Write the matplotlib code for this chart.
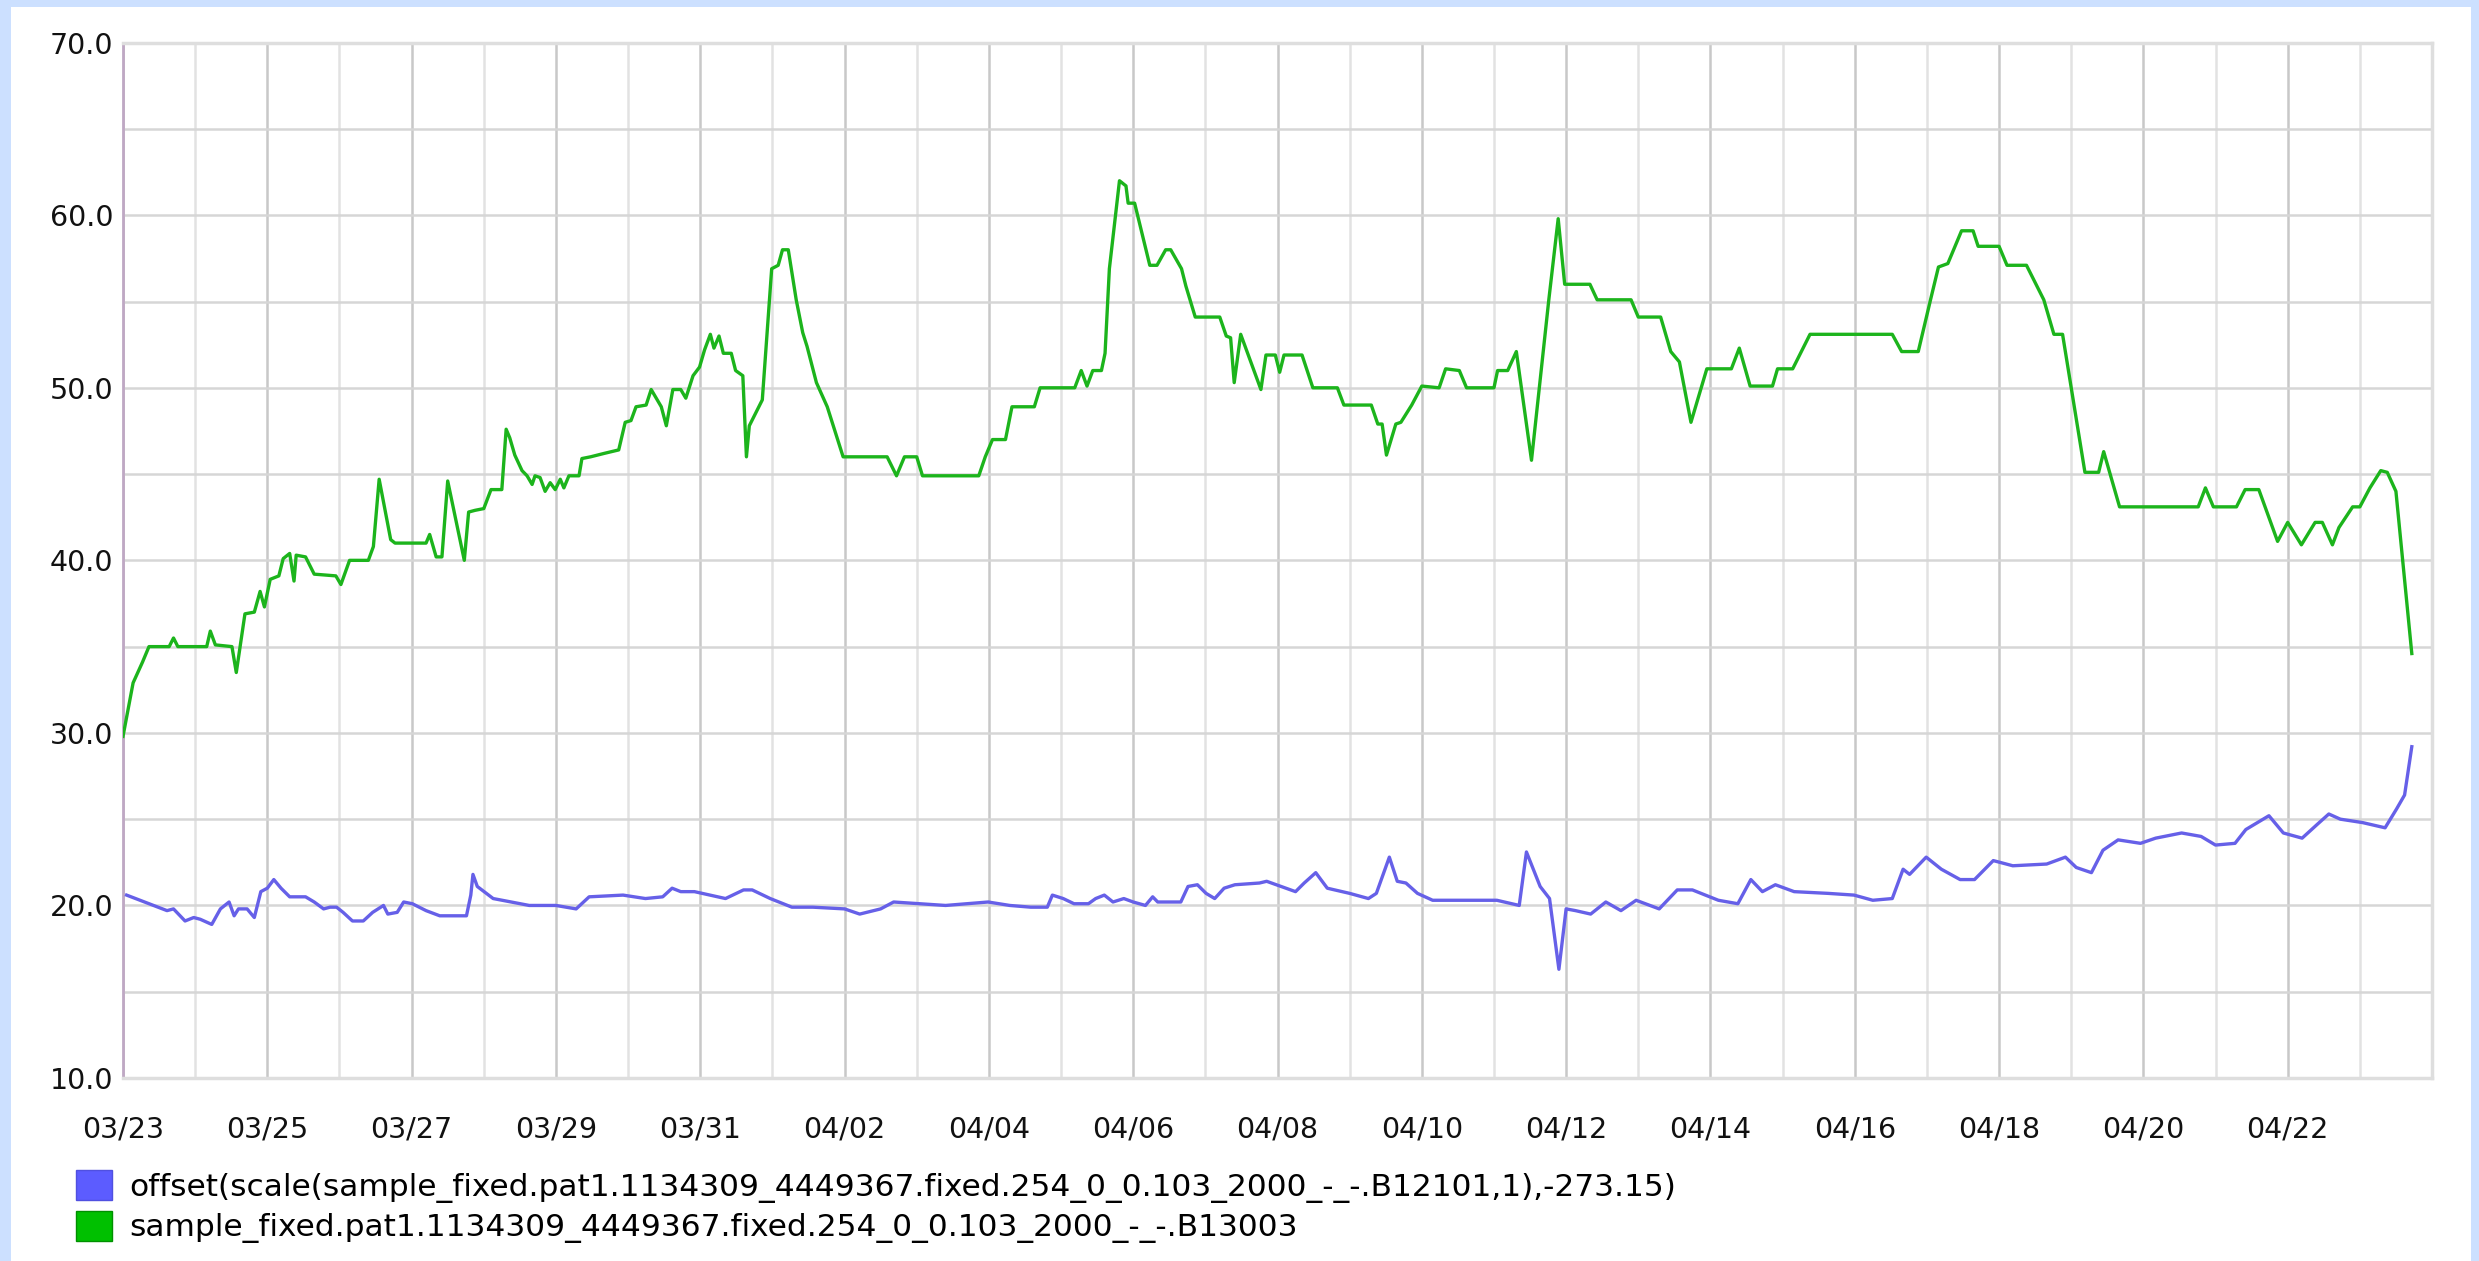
import numpy as np
import matplotlib
matplotlib.use("Agg")
import matplotlib.pyplot as plt
from matplotlib.patches import Patch, Rectangle

# days since 03/23 00:00
green_days = [0.0, 0.14, 0.27, 0.36, 0.64, 0.70, 0.76, 1.16, 1.21, 1.28, 1.51, 1.57, 1.69, 1.82,
              1.90, 1.96, 2.04, 2.16, 2.22, 2.31, 2.37, 2.40, 2.53, 2.65, 2.95, 3.02, 3.14, 3.40,
              3.47, 3.55, 3.71, 3.77, 4.20, 4.25, 4.34, 4.42, 4.50, 4.62, 4.73, 4.79, 4.88, 5.00,
              5.10, 5.25, 5.31, 5.36, 5.43, 5.53, 5.60, 5.67, 5.71, 5.78, 5.85, 5.92, 5.99, 6.06,
              6.11, 6.18, 6.32, 6.36, 6.48, 6.67, 6.87, 6.96, 7.04, 7.11, 7.25, 7.32, 7.39, 7.46,
              7.53, 7.62, 7.73, 7.80, 7.90, 7.99, 8.06, 8.14, 8.19, 8.26, 8.32, 8.43, 8.49, 8.59,
              8.64, 8.68, 8.86, 8.99, 9.08, 9.14, 9.22, 9.33, 9.42, 9.48, 9.61, 9.76, 9.98, 10.59,
              10.72, 10.83, 11.00, 11.08, 11.86, 11.95, 12.05, 12.23, 12.32, 12.63, 12.71, 13.19,
              13.28, 13.36, 13.44, 13.56, 13.61, 13.67, 13.81, 13.90, 13.93, 14.02, 14.23, 14.33,
              14.45, 14.52, 14.67, 14.73, 14.86, 14.95, 15.20, 15.29, 15.35, 15.40, 15.49, 15.77,
              15.84, 15.97, 16.03, 16.09, 16.34, 16.49, 16.83, 16.92, 17.30, 17.39, 17.45, 17.51,
              17.64, 17.71, 17.86, 18.00, 18.24, 18.33, 18.52, 18.62, 19.00, 19.05, 19.19, 19.31,
              19.52, 19.76, 19.89, 19.98, 20.33, 20.43, 20.90, 21.00, 21.31, 21.45, 21.57, 21.73,
              21.95, 22.29, 22.40, 22.55, 22.86, 22.93, 23.14, 23.26, 23.38, 24.52, 24.65, 24.88,
              25.05, 25.16, 25.29, 25.48, 25.64, 25.71, 26.00, 26.11, 26.38, 26.62, 26.76, 26.88,
              27.19, 27.38, 27.45, 27.67, 28.76, 28.86, 28.97, 29.29, 29.41, 29.60, 29.86, 30.00,
              30.19, 30.38, 30.48, 30.62, 30.71, 30.90, 31.00, 31.14, 31.29, 31.38, 31.50, 31.72]
green_vals = [29.8, 32.9, 34.1, 35.0, 35.0, 35.5, 35.0, 35.0, 35.9, 35.1, 35.0, 33.5, 36.9, 37.0,
              38.2, 37.3, 38.9, 39.1, 40.1, 40.4, 38.8, 40.3, 40.2, 39.2, 39.1, 38.6, 40.0, 40.0,
              40.8, 44.7, 41.2, 41.0, 41.0, 41.5, 40.2, 40.2, 44.6, 42.2, 40.0, 42.8, 42.9, 43.0,
              44.1, 44.1, 47.6, 47.1, 46.1, 45.2, 44.9, 44.4, 44.9, 44.8, 44.0, 44.5, 44.1, 44.7,
              44.2, 44.9, 44.9, 45.9, 46.0, 46.2, 46.4, 48.0, 48.1, 48.9, 49.0, 49.9, 49.4, 48.9,
              47.8, 49.9, 49.9, 49.4, 50.7, 51.2, 52.2, 53.1, 52.3, 53.0, 52.0, 52.0, 51.0, 50.7,
              46.0, 47.8, 49.3, 56.9, 57.1, 58.0, 58.0, 55.1, 53.2, 52.4, 50.3, 48.9, 46.0, 46.0,
              44.9, 46.0, 46.0, 44.9, 44.9, 46.0, 47.0, 47.0, 48.9, 48.9, 50.0, 50.0,
              51.0, 50.1, 51.0, 51.0, 52.0, 56.9, 62.0, 61.7, 60.7, 60.7, 57.1, 57.1,
              58.0, 58.0, 56.9, 55.9, 54.1, 54.1, 54.1, 53.0, 52.9, 50.3, 53.1, 49.9,
              51.9, 51.9, 50.9, 51.9, 51.9, 50.0, 50.0, 49.0, 49.0, 47.9, 47.9, 46.1,
              47.9, 48.0, 49.0, 50.1, 50.0, 51.1, 51.0, 50.0, 50.0, 51.0, 51.0, 52.1,
              45.8, 55.1, 59.8, 56.0, 56.0, 55.1, 55.1, 54.1, 54.1, 52.1, 51.5, 48.0,
              51.1, 51.1, 52.3, 50.1, 50.1, 51.1, 51.1, 52.1, 53.1, 53.1, 52.1, 52.1,
              55.1, 57.0, 57.2, 59.1, 59.1, 58.2, 58.2, 57.1, 57.1, 55.1, 53.1, 53.1,
              45.1, 45.1, 46.3, 43.1, 43.1, 44.2, 43.1, 43.1, 44.1, 44.1, 41.1, 42.2,
              40.9, 42.2, 42.2, 40.9, 41.9, 43.1, 43.1, 44.2, 45.2, 45.1, 44.0, 34.6]

blue_days = [0.05, 0.36, 0.61, 0.70, 0.86, 0.98, 1.07, 1.23, 1.35, 1.47, 1.54, 1.60, 1.72, 1.82,
             1.91, 2.00, 2.09, 2.19, 2.31, 2.53, 2.65, 2.78, 2.87, 2.96, 3.05, 3.18, 3.33, 3.46,
             3.61, 3.67, 3.80, 3.89, 4.01, 4.20, 4.39, 4.76, 4.82, 4.85, 4.91, 5.13, 5.38, 5.63,
             6.00, 6.28, 6.46, 6.93, 7.24, 7.48, 7.61, 7.73, 7.92, 8.35, 8.60, 8.72, 8.97, 9.27,
             9.56, 10.00, 10.21, 10.50, 10.68, 11.05, 11.40, 11.99, 12.29, 12.58, 12.81, 12.88,
             13.03, 13.18, 13.38, 13.48, 13.60, 13.72, 13.87, 14.00, 14.17, 14.27, 14.34, 14.66,
             14.76, 14.89, 15.01, 15.13, 15.26, 15.41, 15.75, 15.85, 16.05, 16.25, 16.37, 16.53,
             16.69, 17.00, 17.26, 17.37, 17.55, 17.66, 17.78, 17.94, 18.15, 19.04, 19.35, 19.45,
             19.64, 19.77, 19.90, 20.00, 20.13, 20.34, 20.55, 20.76, 20.97, 21.29, 21.54, 21.75,
             22.11, 22.38, 22.56, 22.72, 22.90, 23.16, 23.63, 23.99, 24.25, 24.52, 24.67, 24.76,
             24.99, 25.20, 25.46, 25.66, 25.92, 26.19, 26.66, 26.92, 27.07, 27.28, 27.44, 27.65,
             27.96, 28.17, 28.53, 28.80, 29.00, 29.27, 29.42, 29.74, 29.94, 30.20, 30.41, 30.57,
             30.73, 31.04, 31.35, 31.51, 31.62, 31.72]
blue_vals = [20.6, 20.1, 19.7, 19.8, 19.1, 19.3, 19.2, 18.9, 19.8, 20.2, 19.4, 19.8, 19.8, 19.3,
             20.8, 21.0, 21.5, 21.0, 20.5, 20.5, 20.2, 19.8, 19.9, 19.9, 19.6, 19.1, 19.1, 19.6,
             20.0, 19.5, 19.6, 20.2, 20.1, 19.7, 19.4, 19.4, 20.6, 21.8, 21.1, 20.4, 20.2, 20.0,
             20.0, 19.8, 20.5, 20.6, 20.4, 20.5, 21.0, 20.8, 20.8, 20.4, 20.9, 20.9, 20.4, 19.9,
             19.9, 19.8, 19.5, 19.8, 20.2, 20.1, 20.0, 20.2, 20.0, 19.9, 19.9, 20.6,
             20.4, 20.1, 20.1, 20.4, 20.6, 20.2, 20.4, 20.2, 20.0, 20.5, 20.2, 20.2,
             21.1, 21.2, 20.7, 20.4, 21.0, 21.2, 21.3, 21.4, 21.1, 20.8, 21.3, 21.9,
             21.0, 20.7, 20.4, 20.7, 22.8, 21.4, 21.3, 20.7, 20.3, 20.3, 20.0, 23.1,
             21.1, 20.4, 16.3, 19.8, 19.7, 19.5, 20.2, 19.7, 20.3, 19.8, 20.9, 20.9,
             20.3, 20.1, 21.5, 20.8, 21.2, 20.8, 20.7, 20.6, 20.3, 20.4, 22.1, 21.8,
             22.8, 22.1, 21.5, 21.5, 22.6, 22.3, 22.4, 22.8, 22.2, 21.9, 23.2, 23.8,
             23.6, 23.9, 24.2, 24.0, 23.5, 23.6, 24.4, 25.2, 24.2, 23.9, 24.7, 25.3,
             25.0, 24.8, 24.5, 25.6, 26.4, 29.2]

tick_labels = ["03/23", "03/25", "03/27", "03/29", "03/31", "04/02", "04/04", "04/06",
               "04/08", "04/10", "04/12", "04/14", "04/16", "04/18", "04/20", "04/22"]
y_ticks = [10.0, 20.0, 30.0, 40.0, 50.0, 60.0, 70.0]
legend_labels = ["offset(scale(sample_fixed.pat1.1134309_4449367.fixed.254_0_0.103_2000_-_-.B12101,1),-273.15)",
                 "sample_fixed.pat1.1134309_4449367.fixed.254_0_0.103_2000_-_-.B13003"]

plt.rcParams['font.family'] = ['DejaVu Sans']
fs = 20.5
legend_fs = 22.5

fig = plt.figure(figsize=(24.79, 12.61), dpi=100, facecolor='#cce0ff')
# white panel inside the light blue frame
fig.patches.append(Rectangle((11 / 2479, 0), (2471 - 11) / 2479, 1 - 7 / 1261,
                             transform=fig.transFigure, facecolor='white', edgecolor='none', zorder=-10))

ax = fig.add_axes([123 / 2479, 1 - 1078 / 1261, (2432 - 123) / 2479, (1078 - 42.7) / 1261])
ax.set_facecolor('white')

ax.plot(blue_days, blue_vals, color='#6660e8', lw=2.4, zorder=3)
ax.plot(green_days, green_vals, color='#1cb41c', lw=2.4, zorder=3)

ax.set_xlim(0, 32)
ax.set_ylim(10, 70)

ax.set_xticks(np.arange(0, 32, 2))
ax.set_xticklabels(tick_labels)
ax.set_xticks(np.arange(1, 32, 2), minor=True)
ax.set_yticks(y_ticks)
ax.set_yticklabels([f"{v:.1f}" for v in y_ticks])
ax.set_yticks(np.arange(15, 70, 10), minor=True)

ax.grid(True, which='major', axis='x', color='#c8c8c8', lw=1.8)
ax.grid(True, which='minor', axis='x', color='#e2e2e2', lw=1.8)
ax.grid(True, which='both', axis='y', color='#d6d6d6', lw=1.8)
ax.set_axisbelow(True)

ax.tick_params(axis='both', which='both', length=0, labelsize=fs, colors='#111111')
ax.tick_params(axis='x', pad=27)
ax.tick_params(axis='y', pad=7)

for side in ['top', 'bottom', 'right']:
    ax.spines[side].set_color('#dedede')
    ax.spines[side].set_linewidth(2.5)
ax.spines['left'].set_color('#bfa8c4')
ax.spines['left'].set_linewidth(2)

handles = [Patch(facecolor='#5c5cff', edgecolor='#5050e0'),
           Patch(facecolor='#00c000', edgecolor='#009000')]
fig.legend(handles, legend_labels, loc='upper left',
           bbox_to_anchor=(76 / 2479, 1 - 1170 / 1261), frameon=False,
           fontsize=legend_fs, handlelength=1.15, handleheight=1.1, handletextpad=0.55,
           labelspacing=0.26, borderpad=0, borderaxespad=0)

fig.savefig('out.png', dpi=100, facecolor=fig.get_facecolor())
